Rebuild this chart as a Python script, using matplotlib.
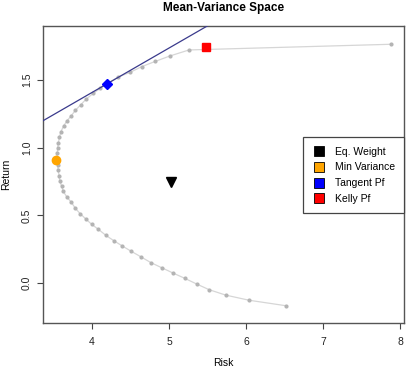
import numpy as np
import matplotlib
matplotlib.use("Agg")
import matplotlib.pyplot as plt
from matplotlib.lines import Line2D

plt.rcParams['font.family'] = ['Liberation Sans', 'DejaVu Sans']

# efficient frontier points (risk, return)
risk = [7.883, 5.260, 5.014, 4.819, 4.647, 4.496, 4.340, 4.198, 4.107, 4.017,
        3.926, 3.852, 3.784, 3.732, 3.676, 3.632, 3.596, 3.577, 3.564, 3.553,
        3.551, 3.538, 3.555, 3.560, 3.573, 3.581, 3.606, 3.628, 3.674, 3.732,
        3.784, 3.845, 3.920, 3.995, 4.082, 4.181, 4.285, 4.396, 4.511, 4.634,
        4.764, 4.906, 5.052, 5.204, 5.359, 5.521, 5.736, 6.040, 6.524]
ret = [1.763, 1.721, 1.677, 1.636, 1.598, 1.556, 1.521, 1.472, 1.438, 1.400,
       1.359, 1.315, 1.275, 1.236, 1.198, 1.160, 1.117, 1.076, 1.034, 0.995,
       0.958, 0.908, 0.871, 0.835, 0.794, 0.756, 0.714, 0.676, 0.635, 0.596,
       0.552, 0.513, 0.473, 0.434, 0.397, 0.352, 0.312, 0.273, 0.234, 0.194,
       0.151, 0.113, 0.074, 0.035, -0.007, -0.049, -0.089, -0.127, -0.168]

# special portfolios
eq_weight = (5.027, 0.748)
min_var = (3.538, 0.908)
tangent = (4.198, 1.472)
kelly = (5.486, 1.745)

# tangency line from risk-free rate
rf = 0.095
slope = 0.328

labels = ['Eq. Weight', 'Min Variance', 'Tangent Pf', 'Kelly Pf']
colors = ['black', 'orange', 'blue', 'red']

fig = plt.figure(figsize=(4.10, 3.67), dpi=100)
ax = fig.add_axes([0.1049, 0.1199, 0.8805, 0.8093])

ax.plot(risk, ret, color='#d6d6d6', lw=0.9, zorder=1)
ax.plot(risk, ret, 'o', color='#b4b4b4', ms=3.0, mec='none', zorder=2)

ax.axline((0, rf), slope=slope, color='#3a3a8c', lw=0.9, zorder=3)

ax.plot(*eq_weight, 'v', color='black', ms=7, zorder=4)
ax.plot(*min_var, 'o', color='orange', ms=6, zorder=4)
ax.plot(*tangent, 'D', color='blue', ms=5.5, zorder=4)
ax.plot(*kelly, 's', color='red', ms=5.5, zorder=4)

ax.set_xlim(3.364, 8.052)
ax.set_ylim(-0.295, 1.898)
ax.set_xticks([4, 5, 6, 7, 8])
ax.set_yticks([0.0, 0.5, 1.0, 1.5])
ax.set_yticklabels(['0.0', '0.5', '1.0', '1.5'], rotation=90, va='center')
ax.tick_params(direction='out', length=4, width=0.8, colors='#444444',
               labelsize=7.5, labelcolor='#222222')
ax.tick_params(axis='x', pad=6)
ax.tick_params(axis='y', pad=4)
for s in ax.spines.values():
    s.set_color('#555555')
    s.set_linewidth(1.0)

ax.set_xlabel('Risk', fontsize=7.5, labelpad=8)
ax.set_ylabel('Return', fontsize=7.5, labelpad=8)
ax.set_title('Mean-Variance Space', fontsize=8.5, fontweight='bold', pad=11)

handles = [Line2D([], [], marker='s', ls='none', mfc=c, mec='black', mew=0.6,
                  ms=7) for c in colors]
leg = ax.legend(handles, labels, loc='upper right', bbox_to_anchor=(1.0, 0.625),
                borderaxespad=0, fancybox=False, edgecolor='#444444',
                fontsize=7.5, labelspacing=0.55, handletextpad=0.9,
                borderpad=0.9, handlelength=1.2, framealpha=1)
leg.get_frame().set_linewidth(0.9)

fig.savefig('out.png', dpi=100)
